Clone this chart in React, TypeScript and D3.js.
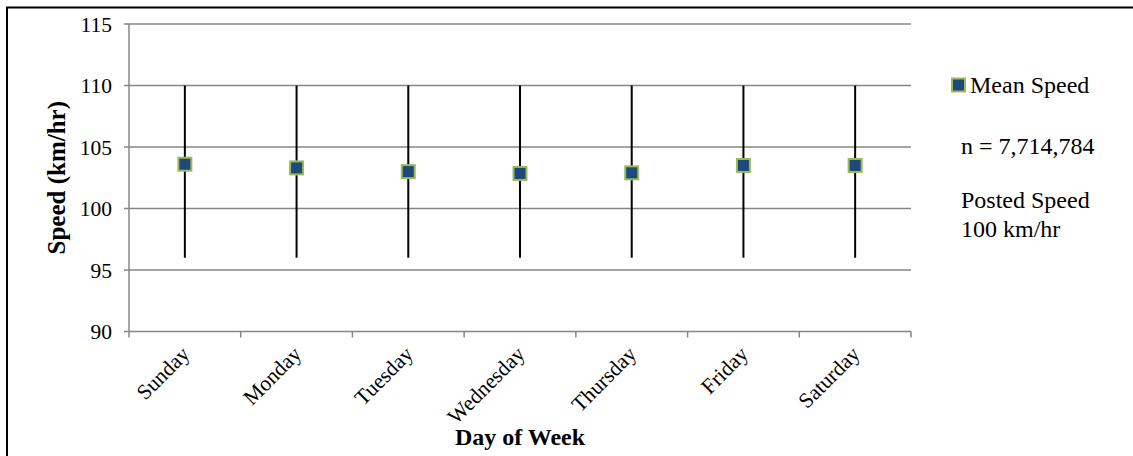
import React, { useEffect, useRef } from 'react';
import * as d3 from 'd3';

// chart data
const days = ['Sunday', 'Monday', 'Tuesday', 'Wednesday', 'Thursday', 'Friday', 'Saturday'];
const meanSpeed = [103.6, 103.3, 103.0, 102.85, 102.9, 103.5, 103.5];
const upperSpeed = [110, 110, 110, 110, 110, 110, 110];
const lowerSpeed = [96, 96, 96, 96, 96, 96, 96];
const yTicks = [90, 95, 100, 105, 110, 115];
const notes = ['n = 7,714,784', 'Posted Speed', '100 km/hr'];

const FONT = '"Liberation Serif", "Times New Roman", serif';

const App = () => {
  const svgRef = useRef<SVGSVGElement>(null);

  useEffect(() => {
    const width = 1133;
    const height = 456;
    const margin = { top: 24, right: 222, bottom: 124.5, left: 129 };

    const svg = d3.select(svgRef.current);
    svg.selectAll('*').remove();
    svg.attr('width', width).attr('height', height);

    // outer frame (only top and left visible in the picture)
    svg.append('rect')
      .attr('x', 7)
      .attr('y', 7.5)
      .attr('width', width + 20)
      .attr('height', height + 20)
      .attr('fill', 'white')
      .attr('stroke', '#000')
      .attr('stroke-width', 2);

    const x = d3.scaleBand()
      .domain(days)
      .range([margin.left, width - margin.right]);

    const y = d3.scaleLinear()
      .domain([90, 115])
      .range([height - margin.bottom, margin.top]);

    // gridlines
    svg.append('g')
      .selectAll('line')
      .data(yTicks)
      .enter().append('line')
      .attr('x1', margin.left - 5)
      .attr('x2', width - margin.right)
      .attr('y1', d => y(d))
      .attr('y2', d => y(d))
      .attr('stroke', '#868686')
      .attr('stroke-width', 1.5);

    // y axis line
    svg.append('line')
      .attr('x1', margin.left)
      .attr('x2', margin.left)
      .attr('y1', y(115))
      .attr('y2', y(90))
      .attr('stroke', '#868686')
      .attr('stroke-width', 1.5);

    // x axis ticks at category boundaries
    const bounds = days.map(d => x(d) as number).concat([width - margin.right]);
    svg.append('g')
      .selectAll('line')
      .data(bounds)
      .enter().append('line')
      .attr('x1', d => d)
      .attr('x2', d => d)
      .attr('y1', y(90))
      .attr('y2', y(90) + 6)
      .attr('stroke', '#868686')
      .attr('stroke-width', 1.5);

    // y tick labels
    svg.append('g')
      .selectAll('text')
      .data(yTicks)
      .enter().append('text')
      .attr('x', margin.left - 17)
      .attr('y', d => y(d))
      .attr('dy', '0.35em')
      .attr('text-anchor', 'end')
      .attr('font-family', FONT)
      .attr('font-size', 21.5)
      .text(d => d);

    // x tick labels, rotated
    svg.append('g')
      .selectAll('text')
      .data(days)
      .enter().append('text')
      .attr('transform', d => `translate(${(x(d) as number) + x.bandwidth() / 2 + 6},${y(90) + 24}) rotate(-45)`)
      .attr('text-anchor', 'end')
      .attr('font-family', FONT)
      .attr('font-size', 21.5)
      .text(d => d);

    const cx = (d: string) => (x(d) as number) + x.bandwidth() / 2;

    // error bars
    svg.append('g')
      .selectAll('line')
      .data(days)
      .enter().append('line')
      .attr('x1', d => cx(d))
      .attr('x2', d => cx(d))
      .attr('y1', (d, i) => y(upperSpeed[i]))
      .attr('y2', (d, i) => y(lowerSpeed[i]))
      .attr('stroke', '#000')
      .attr('stroke-width', 2);

    // mean markers
    const size = 13;
    svg.append('g')
      .selectAll('rect')
      .data(days)
      .enter().append('rect')
      .attr('x', d => cx(d) - size / 2)
      .attr('y', (d, i) => y(meanSpeed[i]) - size / 2)
      .attr('width', size)
      .attr('height', size)
      .attr('fill', '#1F497D')
      .attr('stroke', '#9BBB59')
      .attr('stroke-width', 2);

    // axis titles
    svg.append('text')
      .attr('x', (margin.left + width - margin.right) / 2)
      .attr('y', 445)
      .attr('text-anchor', 'middle')
      .attr('font-family', FONT)
      .attr('font-weight', 'bold')
      .attr('font-size', 24)
      .text('Day of Week');

    svg.append('text')
      .attr('transform', `translate(65,${(y(90) + y(115)) / 2}) rotate(-90)`)
      .attr('text-anchor', 'middle')
      .attr('font-family', FONT)
      .attr('font-weight', 'bold')
      .attr('font-size', 25)
      .text('Speed (km/hr)');

    // legend
    svg.append('rect')
      .attr('x', 952)
      .attr('y', 78.5)
      .attr('width', 13)
      .attr('height', 13)
      .attr('fill', '#1F497D')
      .attr('stroke', '#9BBB59')
      .attr('stroke-width', 2);

    svg.append('text')
      .attr('x', 970)
      .attr('y', 93)
      .attr('font-family', FONT)
      .attr('font-size', 24)
      .text('Mean Speed');

    // notes
    const noteY = [154, 208, 237];
    svg.append('g')
      .selectAll('text')
      .data(notes)
      .enter().append('text')
      .attr('x', 961)
      .attr('y', (d, i) => noteY[i])
      .attr('font-family', FONT)
      .attr('font-size', 24)
      .text(d => d);
  }, []);

  return (
    <svg ref={svgRef} style={{ position: 'absolute', left: 0, top: 0 }}></svg>
  );
};

export default App;
